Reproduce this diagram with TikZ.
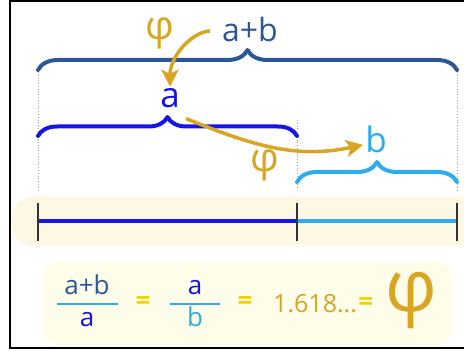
\documentclass[tikz,border=0pt]{standalone}
\usepackage{fontspec}
\setmainfont{Open Sans}
\usepackage{tikz}
\usetikzlibrary{arrows.meta,decorations.pathreplacing,positioning}

\definecolor{sumblue}{RGB}{43,87,151}
\definecolor{segA}{RGB}{20,20,235}
\definecolor{segB}{RGB}{45,172,240}
\definecolor{phigold}{RGB}{218,165,32}
\definecolor{eqyellow}{RGB}{245,208,0}
\definecolor{bandfill}{RGB}{253,248,228}
\definecolor{boxfill}{RGB}{254,253,234}

\begin{document}
\begin{tikzpicture}[x=1pt, y=1pt,
  every node/.style={inner sep=2pt},
  curly/.style={decorate, decoration={brace, amplitude=#1},
                line width=4pt, line cap=round, line join=round},
  guide/.style={gray!70, dotted, line width=0.8pt},
  endtick/.style={black!80, line width=2pt},
  phiarr/.style={phigold, line width=3.5pt,
                 -{Stealth[length=17pt, width=17pt, inset=4pt]}},
  fracline/.style={segB, line width=2pt},
]

\useasboundingbox (0,0) rectangle (464,351);

%% frame and backgrounds
\draw[black, line width=2pt] (10,2.5) rectangle (480,349.5);
\fill[bandfill, rounded corners=20pt] (12,105) rectangle (480,154);
\fill[boxfill, rounded corners=16pt] (42,6) rectangle (452,89);

%% guide lines
\draw[guide] (38,279)  -- (38,161);
\draw[guide] (297,231) -- (297,161);
\draw[guide] (457,279) -- (457,161);

%% braces
\draw[curly=20pt, sumblue] (38,281) -- (457,281);
\draw[curly=19pt, segA]    (38,215) -- (297,215);
\draw[curly=20pt, segB]    (297,169) -- (457,169);

%% the line cut in two
\draw[segA, line width=4.5pt] (38,130) -- (297,130);
\draw[segB, line width=4.5pt] (297,130) -- (457,130);
\foreach \x in {38,297,457}
  \draw[endtick] (\x,110) -- (\x,148);

%% labels
\node[sumblue, font=\fontsize{32}{32}\selectfont, anchor=base] (sum) at (250,309) {a+b};
\node[phigold, font=\fontsize{40}{40}\selectfont] (phiA) at (160,318) {φ};
\node[segA, font=\fontsize{35}{35}\selectfont, anchor=base] (a) at (170,243) {a};
\node[segB, font=\fontsize{35}{35}\selectfont, anchor=base] (b) at (376,198) {b};
\node[phigold, font=\fontsize{40}{40}\selectfont] (phiB) at (265,186) {φ};

%% arrows
\draw[phiarr, shorten <=10pt] (sum.west) to[out=185, in=90] (a.north);
\draw[phiarr] ([shift={(4,-8)}]a.south east) to[out=-22, in=192] ([yshift=-5pt]b.west);

%% ratio
\node[sumblue, font=\fontsize{26}{26}\selectfont, anchor=base] (num1) at (87,56) {a+b};
\node[segA, font=\fontsize{26}{26}\selectfont, anchor=base] (den1) at (87,24) {a};
\draw[fracline] (57,47) -- (118,47);
\node[eqyellow, font=\fontsize{26}{26}\selectfont\bfseries] (eq1) at (143,48) {=};
\node[segA, font=\fontsize{26}{26}\selectfont, anchor=base] (num2) at (195,56) {a};
\node[segB, font=\fontsize{26}{26}\selectfont, anchor=base] (den2) at (195,24) {b};
\draw[fracline] (170,47) -- (220,47);
\node[eqyellow, font=\fontsize{26}{26}\selectfont\bfseries] (eq2) at (245,48) {=};
\node[phigold, font=\fontsize{25}{25}\selectfont, anchor=base west] (val) at (271,38) {1.618...};
\node[eqyellow, font=\fontsize{26}{26}\selectfont\bfseries, right=-3pt of val] (eq3) {=};
\node[phigold, font=\fontsize{72}{72}\selectfont] (phiC) at (411,50) {φ};

\end{tikzpicture}
\end{document}
